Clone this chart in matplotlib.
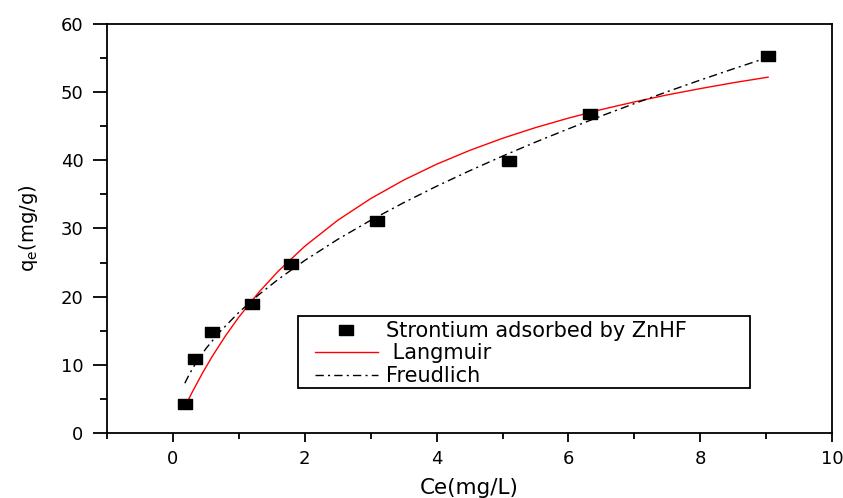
import matplotlib
matplotlib.use("Agg")
import matplotlib.pyplot as plt
from matplotlib.ticker import MultipleLocator
from matplotlib.patches import Rectangle

plt.rcParams['font.family'] = ['DejaVu Sans']

# measured points
ce = [0.18, 0.33, 0.59, 1.2, 1.79, 3.1, 5.1, 6.33, 9.03]
qe = [4.25, 10.85, 14.8, 18.9, 24.8, 31.1, 39.9, 46.8, 55.3]

# fitted curves
lang_x = [0.2, 0.3, 0.45, 0.6, 0.8, 1.0, 1.3, 1.6, 2.0, 2.5, 3.0, 3.5, 4.0,
          4.5, 5.0, 5.5, 6.0, 6.5, 7.0, 7.5, 8.0, 8.5, 9.03]
lang_y = [4.22, 6.14, 8.83, 11.30, 14.30, 17.01, 20.61, 23.76, 27.39, 31.20,
          34.38, 37.09, 39.42, 41.44, 43.22, 44.79, 46.18, 47.44, 48.56,
          49.59, 50.51, 51.37, 52.19]

freu_x = [0.18, 0.25, 0.35, 0.5, 0.7, 1.0, 1.3, 1.6, 2.0, 2.5, 3.0, 3.5, 4.0,
          4.5, 5.0, 5.5, 6.0, 6.5, 7.0, 7.5, 8.0, 8.5, 9.03]
freu_y = [7.30, 8.66, 10.30, 12.38, 14.73, 17.70, 20.27, 22.56, 25.31, 28.40,
          31.20, 33.78, 36.19, 38.46, 40.61, 42.66, 44.61, 46.50, 48.31,
          50.06, 51.76, 53.40, 55.10]

# the picture is stretched sideways, so the squares come out wide
wide_sq = [(-1.4, -1), (1.4, -1), (1.4, 1), (-1.4, 1), (-1.4, -1)]

fig = plt.figure(figsize=(8.43, 4.98), dpi=100)
ax = fig.add_axes([0.127, 0.1305, 0.86, 0.8215])

ax.plot(ce, qe, linestyle='none', marker=wide_sq, color='black', markersize=10,
        label='Strontium adsorbed by ZnHF', zorder=3)
ax.plot(lang_x, lang_y, '-', color='red', linewidth=1.0, label=' Langmuir')
ax.plot(freu_x, freu_y, color='black', linewidth=1.0, dashes=[6, 3, 1.5, 3], label='Freudlich')

ax.set_xlim(-1, 10)
ax.set_ylim(0, 60)
ax.xaxis.set_major_locator(MultipleLocator(2))
ax.xaxis.set_minor_locator(MultipleLocator(1))
ax.yaxis.set_major_locator(MultipleLocator(10))
ax.yaxis.set_minor_locator(MultipleLocator(5))
ax.tick_params(axis='x', which='major', direction='out', length=6.5, width=1.3, labelsize=13, pad=6)
ax.tick_params(axis='x', which='minor', direction='out', length=4, width=1.3)
ax.tick_params(axis='y', which='major', direction='out', length=10, width=1.3, labelsize=13, pad=7)
ax.tick_params(axis='y', which='minor', direction='out', length=5, width=1.3)
for s in ax.spines.values():
    s.set_linewidth(1.3)

ax.set_xlabel('Ce(mg/L)', fontsize=15.5, labelpad=7)
ax.set_ylabel(r'q$_\mathregular{e}$(mg/g)', fontsize=14, labelpad=15)

box = Rectangle((0.263, 0.11), 0.624, 0.176, transform=ax.transAxes,
                facecolor='white', edgecolor='black', linewidth=1.3, zorder=4)
ax.add_patch(box)

leg = ax.legend(loc='upper left', bbox_to_anchor=(0.287, 0.274),
                fontsize=15, frameon=False, borderaxespad=0, borderpad=0,
                handlelength=3.0, labelspacing=0.12, handletextpad=0.4)
leg.set_zorder(5)

fig.savefig('out.png', dpi=100)
